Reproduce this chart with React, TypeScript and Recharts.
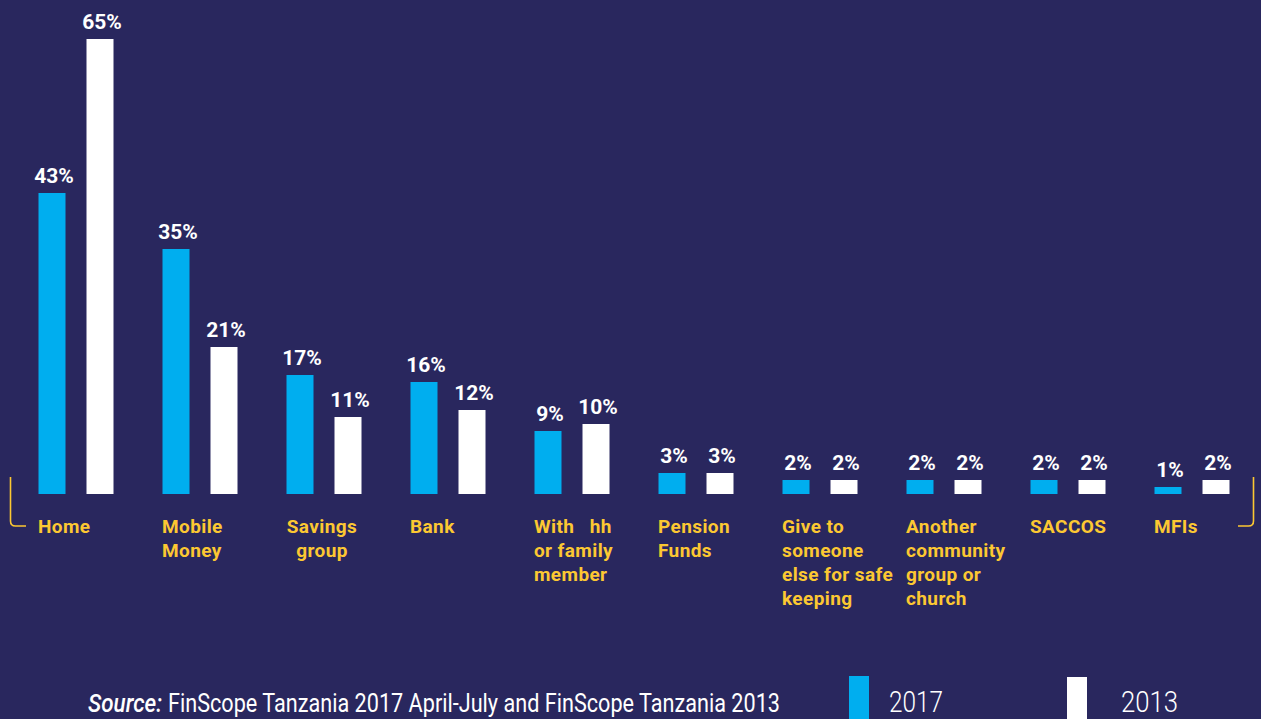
import React from "react";
import { BarChart, Bar, XAxis, YAxis, LabelList } from "recharts";

const categories = [
  "Home",
  "Mobile Money",
  "Savings group",
  "Bank",
  "With hh or family member",
  "Pension Funds",
  "Give to someone else for safe keeping",
  "Another community group or church",
  "SACCOS",
  "MFIs",
];
const categoryLines = [
  ["Home"],
  ["Mobile", "Money"],
  ["Savings", "group"],
  ["Bank"],
  ["With   hh", "or family", "member"],
  ["Pension", "Funds"],
  ["Give to", "someone", "else for safe", "keeping"],
  ["Another", "community", "group or", "church"],
  ["SACCOS"],
  ["MFIs"],
];
const categoryCentered = [false, false, true, false, false, false, false, false, false, false];
const values2017 = [43, 35, 17, 16, 9, 3, 2, 2, 2, 1];
const values2013 = [65, 21, 11, 12, 10, 3, 2, 2, 2, 2];
const seriesNames = ["2017", "2013"];
const sourceLabel = "Source:";
const sourceText = "FinScope Tanzania 2017 April-July and FinScope Tanzania 2013";

const data = categories.map((c, i) => ({
  name: c,
  y2017: values2017[i],
  y2013: values2013[i],
}));

const BG = "#29275e";
const BLUE = "#00aeef";
const WHITE = "#ffffff";
const YELLOW = "#fcc832";

const PctLabel = (props: any) => {
  const { x, y, width, value } = props;
  return (
    <text
      x={x + width / 2 + 2}
      y={y - 10}
      textAnchor="middle"
      fill="#ffffff"
      style={{ fontFamily: "Roboto", fontWeight: 700, fontSize: 21 }}
    >
      {value}%
    </text>
  );
};

const CatTick = (props: any) => {
  const { x, payload } = props;
  const idx = payload.index;
  const lines = categoryLines[idx] || [payload.value];
  const centered = categoryCentered[idx];
  return (
    <g>
      {lines.map((l: string, i: number) => (
        <text
          key={i}
          x={centered ? x - 37.5 + 36 : x - 37.5}
          y={533 + i * 24}
          fill={YELLOW}
          textAnchor={centered ? "middle" : "start"}
          style={{ fontFamily: "Roboto", fontWeight: 700, fontSize: 19, whiteSpace: "pre", letterSpacing: 0.4 }}
          xmlSpace="preserve"
        >
          {l}
        </text>
      ))}
    </g>
  );
};

export default function App() {
  return (
    <div
      style={{
        position: "fixed",
        left: 0,
        top: 0,
        width: 1261,
        height: 719,
        background: BG,
        overflow: "hidden",
      }}
    >
      <BarChart
        width={1261}
        height={719}
        data={data}
        margin={{ top: 39, right: 7.5, bottom: 25, left: 13.5 }}
        barSize={27}
        barGap={21}
        barCategoryGap={24.5}
      >
        <XAxis
          dataKey="name"
          axisLine={false}
          tickLine={false}
          height={200}
          interval={0}
          tick={<CatTick />}
        />
        <YAxis hide domain={[0, 65]} />
        <Bar dataKey="y2017" name={seriesNames[0]} fill={BLUE} isAnimationActive={false}>
          <LabelList dataKey="y2017" content={<PctLabel />} />
        </Bar>
        <Bar dataKey="y2013" name={seriesNames[1]} fill={WHITE} isAnimationActive={false}>
          <LabelList dataKey="y2013" content={<PctLabel />} />
        </Bar>
      </BarChart>
      <svg
        width={1261}
        height={719}
        style={{ position: "absolute", left: 0, top: 0, pointerEvents: "none" }}
      >
        <path d="M10.5 477 V521 Q10.5 526 15.5 526 H26" stroke={YELLOW} strokeWidth={1.6} fill="none" />
        <path d="M1253.5 477 V521 Q1253.5 526 1248.5 526 H1238" stroke={YELLOW} strokeWidth={1.6} fill="none" />
        <text
          x={88}
          y={712}
          fill="#fff"
          textLength={74}
          lengthAdjust="spacingAndGlyphs"
          style={{ fontFamily: "Roboto", fontStyle: "italic", fontWeight: 500, fontSize: 25 }}
        >
          {sourceLabel}
        </text>
        <text
          x={168}
          y={712}
          fill="#fff"
          textLength={612}
          lengthAdjust="spacingAndGlyphs"
          style={{ fontFamily: "Roboto", fontWeight: 400, fontSize: 25 }}
        >
          {sourceText}
        </text>
        <rect x={849} y={676} width={20} height={43} fill={BLUE} />
        <text
          x={889}
          y={712}
          fill="#fff"
          textLength={54}
          lengthAdjust="spacingAndGlyphs"
          style={{ fontFamily: "Roboto", fontWeight: 300, fontSize: 30 }}
        >
          {seriesNames[0]}
        </text>
        <rect x={1067} y={677} width={20} height={42} fill={WHITE} />
        <text
          x={1121}
          y={712}
          fill="#fff"
          textLength={57}
          lengthAdjust="spacingAndGlyphs"
          style={{ fontFamily: "Roboto", fontWeight: 300, fontSize: 30 }}
        >
          {seriesNames[1]}
        </text>
      </svg>
    </div>
  );
}
